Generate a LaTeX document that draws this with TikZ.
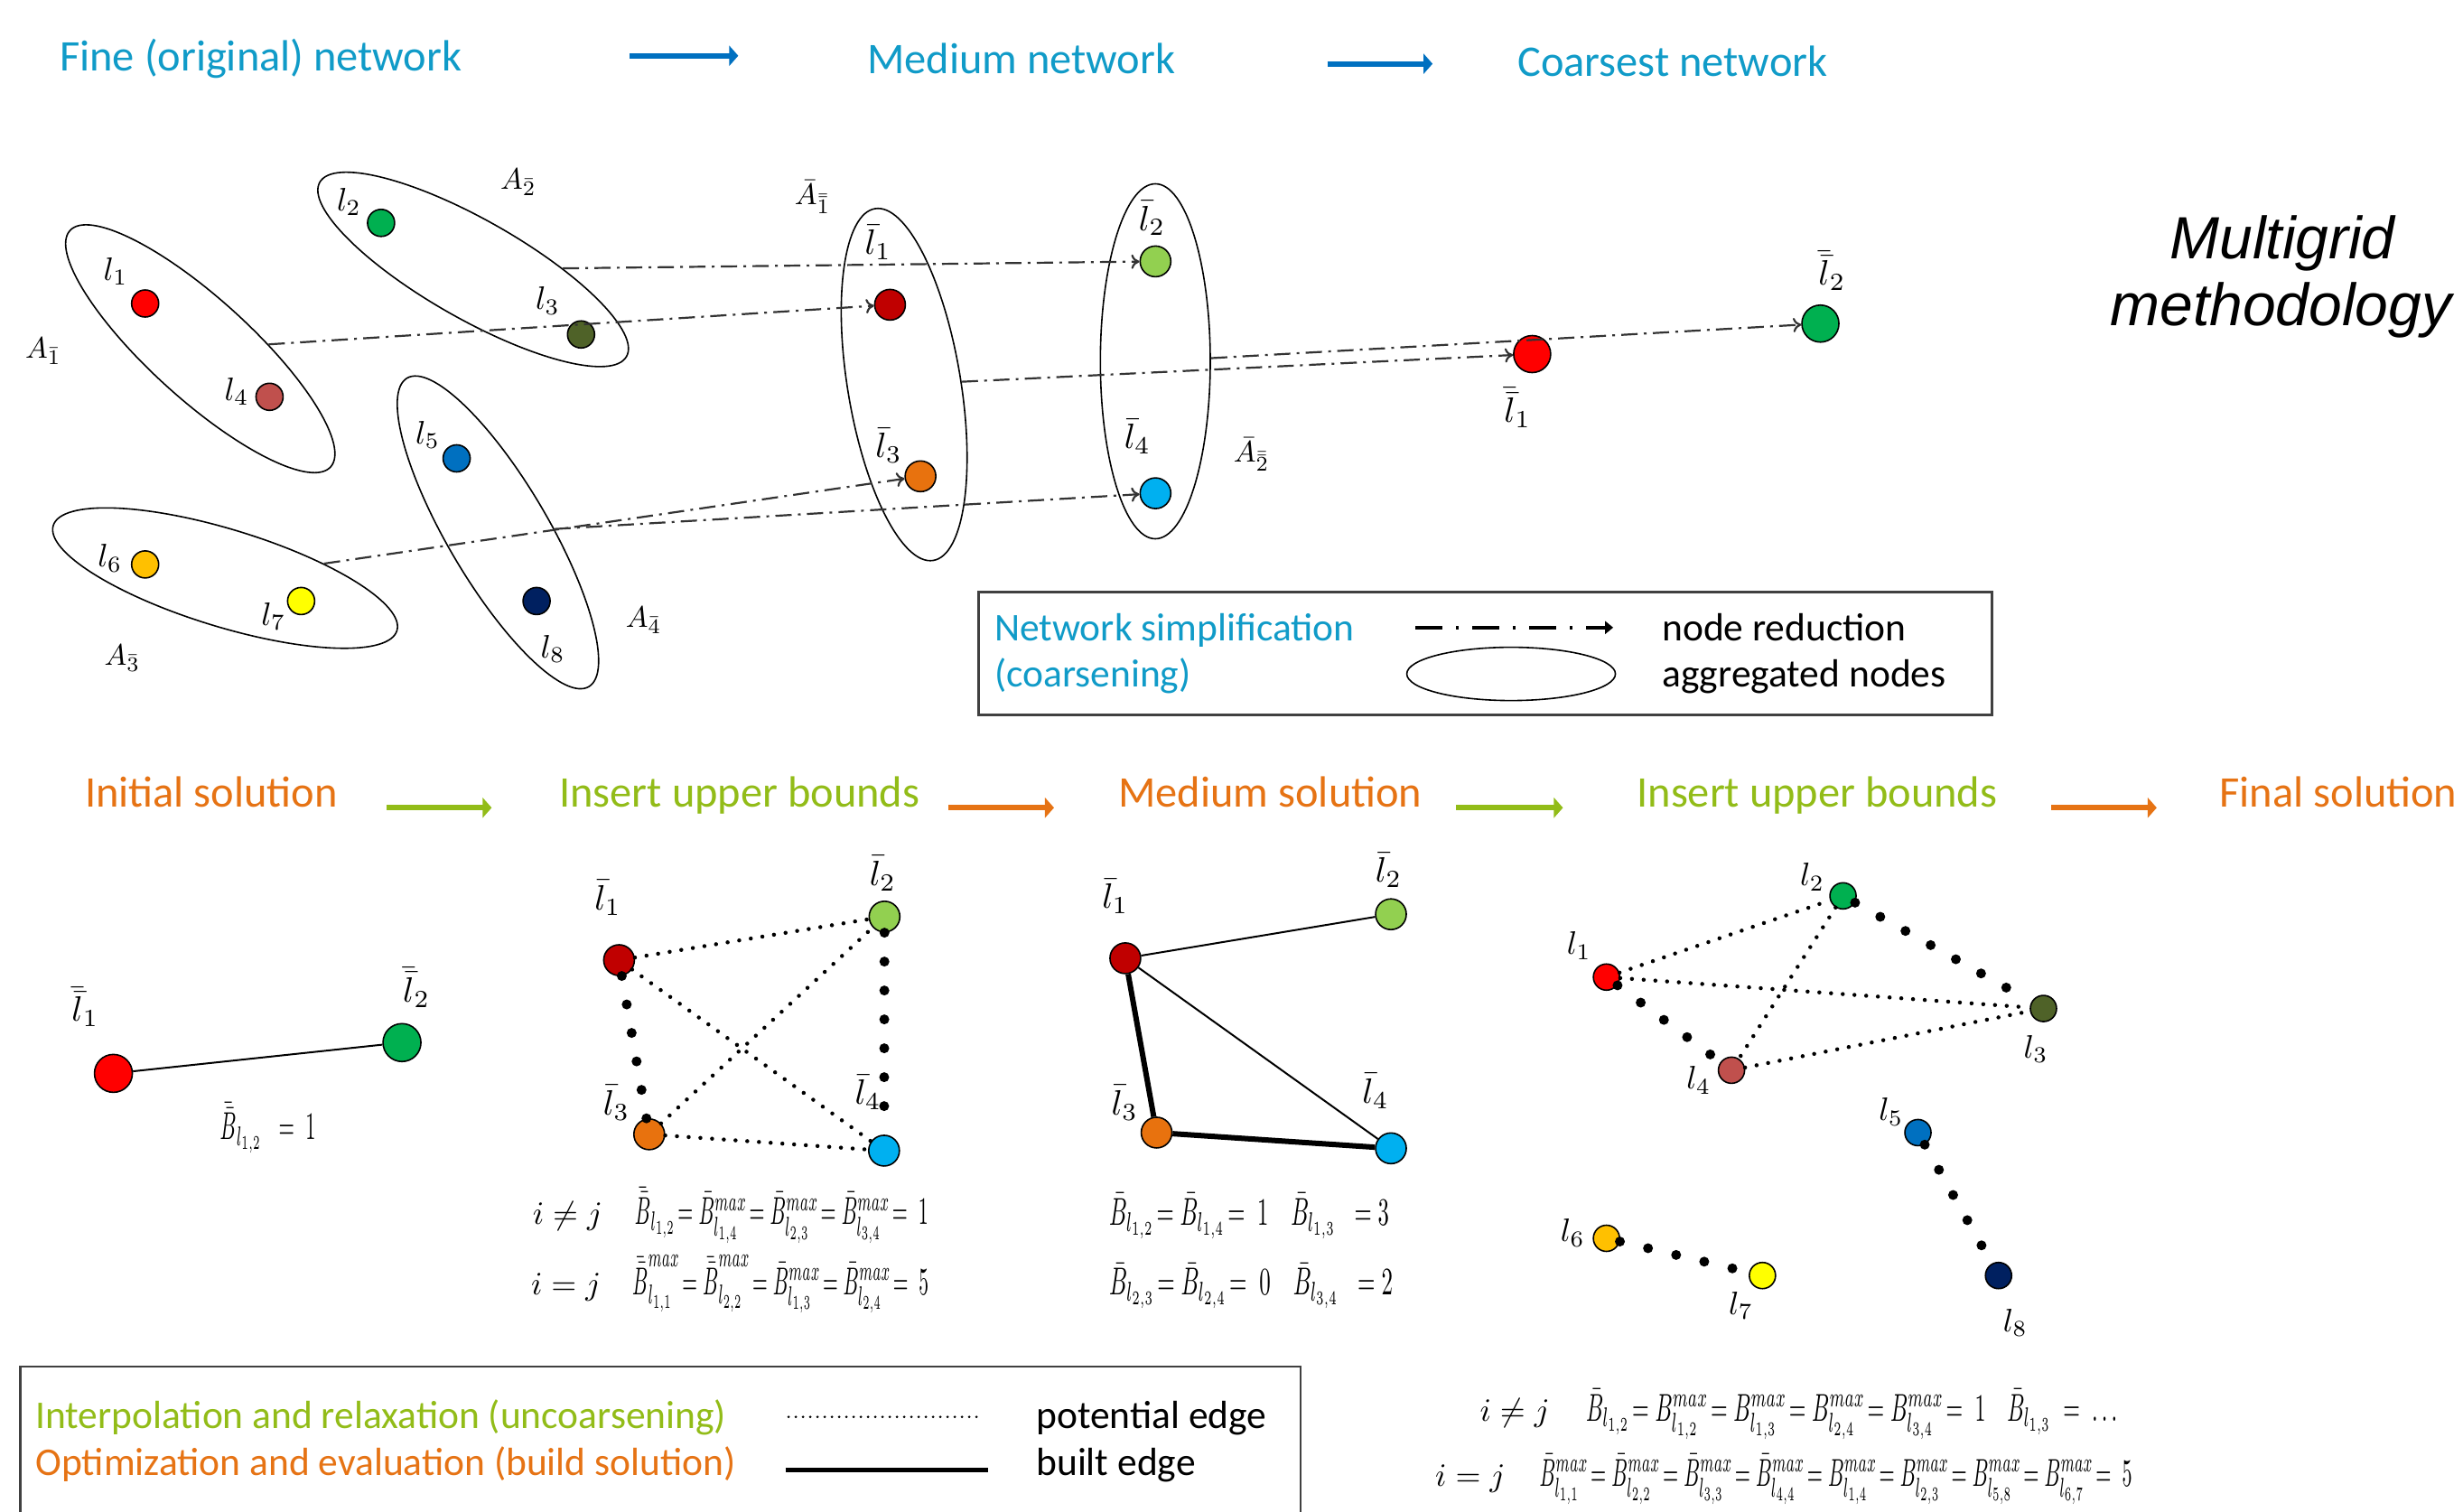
\documentclass[tikz,border=0pt]{standalone}
\usepackage[no-math]{fontspec}
\setmainfont{Carlito}
\newfontfamily\arialfont{Liberation Sans}
\usepackage{graphicx}
\usetikzlibrary{arrows.meta,shapes.geometric}
\definecolor{cyanT}{RGB}{16,155,200}
\definecolor{blueA}{RGB}{0,112,192}
\definecolor{orangeT}{RGB}{230,115,20}
\definecolor{greenT}{RGB}{146,188,24}
\definecolor{cRed}{RGB}{255,0,0}
\definecolor{cGreen}{RGB}{0,176,80}
\definecolor{cOlive}{RGB}{79,98,40}
\definecolor{cBrown}{RGB}{192,80,77}
\definecolor{cBlue}{RGB}{0,112,192}
\definecolor{cNavy}{RGB}{0,32,96}
\definecolor{cGold}{RGB}{255,192,0}
\definecolor{cYellow}{RGB}{255,255,0}
\definecolor{cDRed}{RGB}{192,0,0}
\definecolor{cLGreen}{RGB}{146,208,80}
\definecolor{cOrange}{RGB}{232,114,14}
\definecolor{cSky}{RGB}{0,176,240}
\newcommand{\myfs}[1]{\fontsize{#1}{#1}\selectfont}
\newcommand{\lbl}[1]{\scalebox{3.6}{$#1$}}
\newcommand{\mlbl}[1]{\scalebox{3.9}{$#1$}}
\newcommand{\albl}[1]{\scalebox{3.3}{$#1$}}
\newcommand{\frml}[2]{\resizebox{#1}{4.3\height}{$#2$}}
\begin{document}
\begin{tikzpicture}[x=1.7392pt,y=-1.7392pt,
  nd/.style={circle, draw=black, line width=1.6pt, inner sep=0pt},
  fineN/.style={nd, minimum size=30pt},
  medN/.style={nd, minimum size=34pt},
  coarseN/.style={nd, minimum size=41pt},
  initN/.style={nd, minimum size=42pt},
  solN/.style={nd, minimum size=34pt},
  finN/.style={nd, minimum size=29pt},
  agg/.style={ellipse, draw=black, line width=1.6pt, inner sep=0pt},
  lab/.style={inner sep=0pt},
  reduce/.style={draw=black!80, line width=2.2pt, dash pattern=on 18pt off 7pt on 3pt off 7pt, -{To[length=9pt,width=16pt]}},
  legreduce/.style={draw=black, line width=4pt, dash pattern=on 30pt off 15pt on 3pt off 15pt, -{Triangle[length=9pt,width=14pt]}},
  hdr/.style={anchor=base west, inner sep=0pt, font=\myfs{48.4}},
  leg/.style={anchor=base west, inner sep=0pt, font=\myfs{43.5}},
  flow/.style={line width=6pt, -{Triangle[length=10pt,width=22pt]}},
  potdots/.style={line width=4.5pt, line cap=round, dash pattern=on 0pt off 13pt},
  bigdots/.style={line width=11pt, line cap=round, dash pattern=on 0pt off 32pt},
  thinedge/.style={line width=2pt},
  built/.style={line width=6pt},
  frm/.style={anchor=base west, inner sep=0pt},
  boxline/.style={draw=black!75, line width=2.5pt}
]
\path[use as bounding box, fill=white] (0,0) rectangle (1568,962);

% ---------- top headers ----------
\node[hdr, text=cyanT] (hFine) at (38,45) {Fine (original) network};
\node[hdr, text=cyanT] (hMed) at (552,46.6) {Medium network};
\node[hdr, text=cyanT] (hCoarse) at (966,48.3) {Coarsest network};
\coordinate (ta1) at (401,35.5); \coordinate (tb1) at (470,35.5);
\coordinate (ta2) at (845,40.6); \coordinate (tb2) at (912,40.6);
\draw[flow, blueA] (ta1) -- (tb1);
\draw[flow, blueA] (ta2) -- (tb2);

\node[inner sep=0pt, anchor=base, font=\arialfont\myfs{66}\itshape] (mg1) at (1453,165) {Multigrid};
\node[inner sep=0pt, anchor=base, font=\arialfont\myfs{66}\itshape] (mg2) at (1452,207) {methodology};

% ---------- fine network ----------
\node[agg, minimum width=389.6pt, minimum height=111.3pt, rotate=-42.2] (A1) at (127.5,222) {};
\node[agg, minimum width=390.6pt, minimum height=109.6pt, rotate=-29.6] (A2) at (301.2,171.5) {};
\node[agg, minimum width=397.9pt, minimum height=107.8pt, rotate=-17] (A3) at (143.3,368) {};
\node[agg, minimum width=396.5pt, minimum height=111.3pt, rotate=-59.5] (A4) at (317,338.9) {};

\node[fineN, fill=cRed] (f1) at (92.4,193.2) {};
\node[fineN, fill=cGreen] (f2) at (242.6,141.9) {};
\node[fineN, fill=cOlive] (f3) at (369.9,212.9) {};
\node[fineN, fill=cBrown] (f4) at (171.6,252.6) {};
\node[fineN, fill=cBlue] (f5) at (290.7,291.8) {};
\node[fineN, fill=cGold] (f6) at (92.4,359.3) {};
\node[fineN, fill=cYellow] (f7) at (191.7,382.6) {};
\node[fineN, fill=cNavy] (f8) at (341.6,382.6) {};

\node[lab] (f1L) at (73.7,172.9) {\lbl{l_1}};
\node[lab] (f2L) at (222.2,128.5) {\lbl{l_2}};
\node[lab] (f3L) at (348.7,191.4) {\lbl{l_3}};
\node[lab] (f4L) at (150.7,249.1) {\lbl{l_4}};
\node[lab] (f5L) at (272.3,276.8) {\lbl{l_5}};
\node[lab] (f6L) at (70.1,355.4) {\lbl{l_6}};
\node[lab] (f7L) at (174.1,392.3) {\lbl{l_7}};
\node[lab] (f8L) at (352,413.1) {\lbl{l_8}};

\node[lab] (A1L) at (27.5,223.7) {\albl{A_{\bar{1}}}};
\node[lab] (A2L) at (330,115.8) {\albl{A_{\bar{2}}}};
\node[lab] (A3L) at (77.8,418.9) {\albl{A_{\bar{3}}}};
\node[lab] (A4L) at (409.8,394.7) {\albl{A_{\bar{4}}}};

% ---------- medium network ----------
\node[agg, minimum width=394.8pt, minimum height=125.2pt, rotate=-80.6] (B1) at (575.6,244.8) {};
\node[agg, minimum width=393pt, minimum height=121.7pt, rotate=90] (B2) at (735.5,230) {};

\node[medN, fill=cDRed] (m1) at (566.6,194) {};
\node[medN, fill=cLGreen] (m2) at (735.6,166.4) {};
\node[medN, fill=cOrange] (m3) at (586,303.2) {};
\node[medN, fill=cSky] (m4) at (735.6,314) {};

\node[lab] (m1L) at (559,154.3) {\mlbl{\bar{l}_1}};
\node[lab] (m2L) at (733.4,139) {\mlbl{\bar{l}_2}};
\node[lab] (m3L) at (565.8,283.6) {\mlbl{\bar{l}_3}};
\node[lab] (m4L) at (724.1,278) {\mlbl{\bar{l}_4}};
\node[lab] (B1L) at (517.3,125.5) {\albl{\bar{A}_{\bar{\bar{1}}}}};
\node[lab] (B2L) at (796.7,289.4) {\albl{\bar{A}_{\bar{\bar{2}}}}};

% ---------- coarsest network ----------
\node[coarseN, fill=cRed] (c1) at (975.4,225.4) {};
\node[coarseN, fill=cGreen] (c2) at (1158.9,206) {};
\node[lab] (c1L) at (966.1,259.7) {\mlbl{\bar{\bar{l}}_1}};
\node[lab] (c2L) at (1166.3,172.5) {\mlbl{\bar{\bar{l}}_2}};

% ---------- node reduction connectors ----------
\draw[reduce] (A2) -- (m2);
\draw[reduce] (A1) -- (m1);
\draw[reduce] (A3) -- (m3);
\draw[reduce] (A4) -- (m4);
\draw[reduce] (B1) -- (c1);
\draw[reduce] (B2) -- (c2);

% ---------- legend 1 ----------
\draw[boxline] (623,377) rectangle (1268,455);
\node[leg, text=cyanT] (lg1a) at (633,408) {Network simplification};
\node[leg, text=cyanT] (lg1b) at (633,437) {(coarsening)};
\coordinate (lra) at (901,399.5); \coordinate (lrb) at (1027,399.5);
\draw[legreduce] (lra) -- (lrb);
\node[agg, minimum width=231pt, minimum height=59pt] (lgE) at (962,429) {};
\node[leg] (lg1c) at (1058,408) {node reduction};
\node[leg] (lg1d) at (1058,437) {aggregated nodes};

% ---------- bottom headers ----------
\node[hdr, text=orangeT] (hInit) at (54,514) {Initial solution};
\node[hdr, text=greenT] (hIns1) at (356,514) {Insert upper bounds};
\node[hdr, text=orangeT] (hMedS) at (712,514) {Medium solution};
\node[hdr, text=greenT] (hIns2) at (1042,514) {Insert upper bounds};
\node[hdr, text=orangeT] (hFinal) at (1413,514) {Final solution};
\coordinate (ba1) at (246,514.2); \coordinate (bb1) at (313,514.2);
\coordinate (ba2) at (604,514.2); \coordinate (bb2) at (671,514.2);
\coordinate (ba3) at (927,514.2); \coordinate (bb3) at (995,514.2);
\coordinate (ba4) at (1306,514.2); \coordinate (bb4) at (1373,514.2);
\draw[flow, greenT] (ba1) -- (bb1);
\draw[flow, orangeT] (ba2) -- (bb2);
\draw[flow, greenT] (ba3) -- (bb3);
\draw[flow, orangeT] (ba4) -- (bb4);

% ---------- initial solution ----------
\node[initN, fill=cRed] (i1) at (72.2,683.3) {};
\node[initN, fill=cGreen] (i2) at (255.9,663.7) {};
\node[lab] (i1L) at (54.3,641) {\mlbl{\bar{\bar{l}}_1}};
\node[lab] (i2L) at (265.1,628.6) {\mlbl{\bar{\bar{l}}_2}};
\draw[thinedge] (i1) -- (i2);
\node[frm] (iF) at (140,725.6) {\frml{106pt}{\bar{\bar{B}}_{l_{1,2}}\;\;=\;1}};

% ---------- insert upper bounds 1 ----------
\node[solN, fill=cDRed] (p1) at (394.1,611.2) {};
\node[solN, fill=cLGreen] (p2) at (563.1,583.5) {};
\node[solN, fill=cOrange] (p3) at (413.3,722.1) {};
\node[solN, fill=cSky] (p4) at (562.8,732.5) {};
\node[lab] (p1L) at (387,571.5) {\mlbl{\bar{l}_1}};
\node[lab] (p2L) at (562,556) {\mlbl{\bar{l}_2}};
\node[lab] (p3L) at (392.4,702) {\mlbl{\bar{l}_3}};
\node[lab] (p4L) at (552.6,695.4) {\mlbl{\bar{l}_4}};
\draw[potdots] (p1) -- (p2);
\draw[potdots] (p1) -- (p4);
\draw[potdots] (p3) -- (p2);
\draw[potdots] (p3) -- (p4);
\draw[bigdots] (p1) -- (p3);
\draw[bigdots] (p2) -- (p4);
\node[frm] (pR1) at (339,779.6) {\lbl{i\neq j}};
\node[frm] (pR2) at (338,824) {\lbl{i=j}};
\node[frm] (pF1) at (404,779.6) {\frml{325pt}{\bar{\bar{B}}_{l_{1,2}}\!=\bar{B}^{max}_{l_{1,4}}\!=\bar{B}^{max}_{l_{2,3}}\!=\bar{B}^{max}_{l_{3,4}}\!=\;1}};
\node[frm] (pF2) at (402.5,824) {\frml{328pt}{\bar{\bar{B}}^{max}_{l_{1,1}}\!=\bar{\bar{B}}^{max}_{l_{2,2}}\!=\bar{B}^{max}_{l_{1,3}}\!=\bar{B}^{max}_{l_{2,4}}\!=\;5}};

% ---------- medium solution ----------
\node[solN, fill=cDRed] (s1) at (716.4,610) {};
\node[solN, fill=cLGreen] (s2) at (885.5,582) {};
\node[solN, fill=cOrange] (s3) at (736.3,721) {};
\node[solN, fill=cSky] (s4) at (885.5,731) {};
\node[lab] (s1L) at (710,570.5) {\mlbl{\bar{l}_1}};
\node[lab] (s2L) at (884,554) {\mlbl{\bar{l}_2}};
\node[lab] (s3L) at (716,702) {\mlbl{\bar{l}_3}};
\node[lab] (s4L) at (875.7,694.5) {\mlbl{\bar{l}_4}};
\draw[thinedge] (s1) -- (s2);
\draw[thinedge] (s1) -- (s4);
\draw[built] (s1) -- (s3);
\draw[built] (s3) -- (s4);
\node[frm] (sF1) at (706,780) {\frml{310pt}{\bar{B}_{l_{1,2}}\!=\bar{B}_{l_{1,4}}\!=\;1\quad\bar{B}_{l_{1,3}}\;\;=3}};
\node[frm] (sF2) at (706,824.5) {\frml{314pt}{\bar{B}_{l_{2,3}}\!=\bar{B}_{l_{2,4}}\!=\;0\quad\bar{B}_{l_{3,4}}\;\;=2}};

% ---------- insert upper bounds 2 ----------
\node[finN, fill=cRed] (q1) at (1022.7,622) {};
\node[finN, fill=cGreen] (q2) at (1173.3,570.3) {};
\node[finN, fill=cOlive] (q3) at (1300.9,642) {};
\node[finN, fill=cBrown] (q4) at (1102.3,681.3) {};
\node[finN, fill=cBlue] (q5) at (1221,721) {};
\node[finN, fill=cGold] (q6) at (1022.7,788.3) {};
\node[finN, fill=cYellow] (q7) at (1122,812) {};
\node[finN, fill=cNavy] (q8) at (1272.3,812) {};
\node[lab] (q1L) at (1005.3,602) {\lbl{l_1}};
\node[lab] (q2L) at (1153.8,558.3) {\lbl{l_2}};
\node[lab] (q3L) at (1296.1,667.8) {\lbl{l_3}};
\node[lab] (q4L) at (1081.5,687.7) {\lbl{l_4}};
\node[lab] (q5L) at (1203.9,707.7) {\lbl{l_5}};
\node[lab] (q6L) at (1001.3,784.8) {\lbl{l_6}};
\node[lab] (q7L) at (1108.3,831) {\lbl{l_7}};
\node[lab] (q8L) at (1283,842) {\lbl{l_8}};
\draw[potdots] (q1) -- (q2);
\draw[potdots] (q1) -- (q3);
\draw[potdots] (q2) -- (q4);
\draw[potdots] (q4) -- (q3);
\draw[bigdots] (q1) -- (q4);
\draw[bigdots] (q2) -- (q3);
\draw[bigdots] (q5) -- (q8);
\draw[bigdots] (q6) -- (q7);
\node[frm] (qR1) at (942,904.6) {\lbl{i\neq j}};
\node[frm] (qR2) at (913.6,946) {\lbl{i=j}};
\node[frm] (qF1) at (1009.6,904.6) {\frml{588pt}{\bar{B}_{l_{1,2}}\!=B^{max}_{l_{1,2}}\!=B^{max}_{l_{1,3}}\!=B^{max}_{l_{2,4}}\!=B^{max}_{l_{3,4}}\!=\;1\quad\bar{B}_{l_{1,3}}\;=\;\dots}};
\node[frm] (qF2) at (980,946) {\frml{656pt}{\bar{B}^{max}_{l_{1,1}}\!=\bar{B}^{max}_{l_{2,2}}\!=\bar{B}^{max}_{l_{3,3}}\!=\bar{B}^{max}_{l_{4,4}}\!=B^{max}_{l_{1,4}}\!=B^{max}_{l_{2,3}}\!=B^{max}_{l_{5,8}}\!=B^{max}_{l_{6,7}}\!=\;5}};

% ---------- legend 2 ----------
\draw[boxline] (13,965) |- (828,870) -- (828,965);
\node[leg, text=greenT] (lg2a) at (22.5,909.5) {Interpolation and relaxation (uncoarsening)};
\node[leg, text=orangeT] (lg2b) at (22.5,939.5) {Optimization and evaluation (build solution)};
\coordinate (lpa) at (502,902); \coordinate (lpb) at (624,902);
\coordinate (lba) at (500,935.5); \coordinate (lbb) at (629,935.5);
\draw[line width=3pt, line cap=round, dash pattern=on 0pt off 8pt] (lpa) -- (lpb);
\draw[line width=5pt] (lba) -- (lbb);
\node[leg] (lg2c) at (659.6,909.5) {potential edge};
\node[leg] (lg2d) at (659.6,939.5) {built edge};
\end{tikzpicture}
\end{document}
